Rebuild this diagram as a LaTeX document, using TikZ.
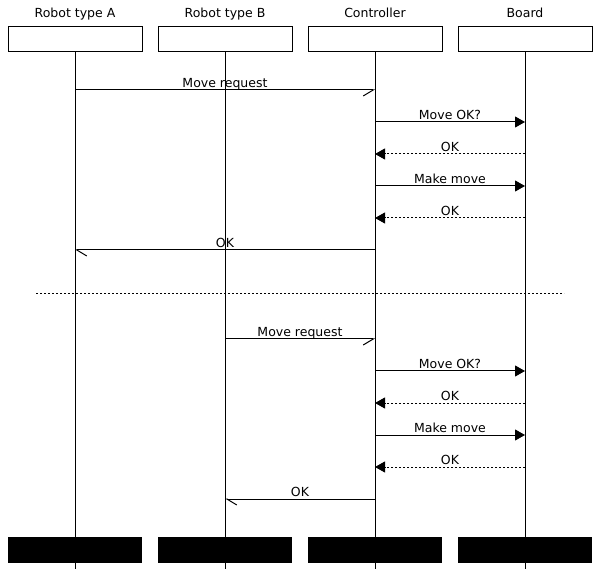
\documentclass[tikz,border=0pt]{standalone}
\usepackage{fontspec}
\setmainfont{DejaVu Sans}
\usetikzlibrary{arrows.meta}

\begin{document}
\begin{tikzpicture}[x=1pt,y=-1pt,line width=1pt,
    font=\fontsize{12.5}{15}\selectfont,
    entity/.style={draw,minimum width=134pt,minimum height=25pt,inner sep=0pt},
    endbar/.style={fill=black,minimum width=134pt,minimum height=26pt,inner sep=0pt},
    msgtext/.style={anchor=base,inner sep=0pt,yshift=2.5pt},
    call/.style={-{Straight Barb[right,length=10pt,width=12pt]}},
    reply/.style={-{Straight Barb[left,length=10pt,width=12pt]}},
    ask/.style={-{Triangle[length=10pt,width=11pt]}},
    answer/.style={ask,dash pattern=on 2pt off 2pt}]
  \useasboundingbox (0,0) rectangle (600,569);
  \coordinate (bottom) at (0,569);
  % entities and lifelines
  \foreach \name/\x/\title in {robA/75/Robot type A,robB/225/Robot type B,
      ctrl/375/Controller,board/525/Board}{
    \node[entity,label={[anchor=base,yshift=9pt]north:\title}] (\name) at (\x,39.5) {};
    \draw (\name.south) -- (\name |- bottom);
    \node[endbar] (\name end) at (\x,550) {};
  }
  % message rows
  \foreach \i/\y in {1/90,2/122,3/154,4/186,5/218,6/250,7/339,8/371,9/403,10/435,11/467,12/499}
    \coordinate (m\i) at (0,\y);
  \coordinate (sepL) at (36,294);
  \coordinate (sepR) at (564,294);
  % robot A asks
  \draw[call] (robA |- m1) -- node[msgtext] {Move request} (ctrl |- m1);
  \draw[ask] (ctrl |- m2) -- node[msgtext] {Move OK?} (board |- m2);
  \draw[answer] (board |- m3) -- node[msgtext] {OK} (ctrl |- m3);
  \draw[ask] (ctrl |- m4) -- node[msgtext] {Make move} (board |- m4);
  \draw[answer] (board |- m5) -- node[msgtext] {OK} (ctrl |- m5);
  \draw[reply] (ctrl |- m6) -- node[msgtext] {OK} (robA |- m6);
  \draw[dash pattern=on 2pt off 2pt] (sepL) -- (sepR);
  % robot B asks
  \draw[call] (robB |- m7) -- node[msgtext] {Move request} (ctrl |- m7);
  \draw[ask] (ctrl |- m8) -- node[msgtext] {Move OK?} (board |- m8);
  \draw[answer] (board |- m9) -- node[msgtext] {OK} (ctrl |- m9);
  \draw[ask] (ctrl |- m10) -- node[msgtext] {Make move} (board |- m10);
  \draw[answer] (board |- m11) -- node[msgtext] {OK} (ctrl |- m11);
  \draw[reply] (ctrl |- m12) -- node[msgtext] {OK} (robB |- m12);
\end{tikzpicture}
\end{document}
